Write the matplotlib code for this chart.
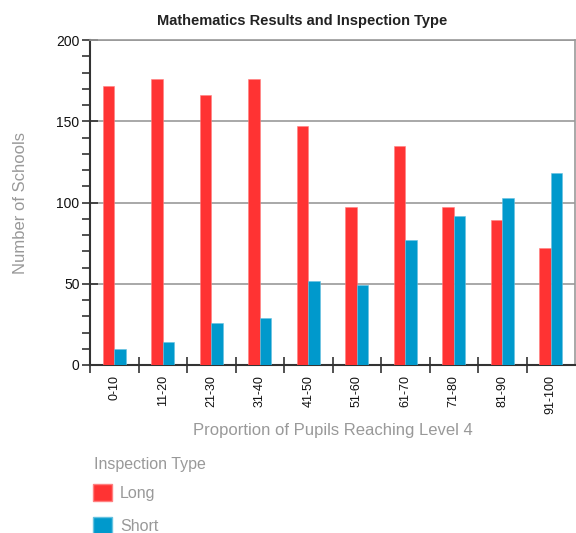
import matplotlib
matplotlib.use("Agg")
import matplotlib.pyplot as plt
import numpy as np
from matplotlib.patches import Patch

categories = ["0-10", "11-20", "21-30", "31-40", "41-50", "51-60", "61-70", "71-80", "81-90", "91-100"]
long_vals = [172, 176, 166, 176, 147, 97, 135, 97, 89, 72]
short_vals = [10, 14, 26, 29, 52, 49, 77, 92, 103, 118]
series_names = ["Long", "Short"]
legend_title = "Inspection Type"
colors = ["#FF3333", "#0099CC"]

plt.rcParams['font.family'] = ['Liberation Sans', 'DejaVu Sans']

fig = plt.figure(figsize=(5.76, 5.33), dpi=100)
ax = fig.add_axes([90/576, 1-365/533, (575-90)/576, (365-40)/533])

x = np.arange(len(categories))
w = 0.24
ax.bar(x - w/2, long_vals, width=w, color=colors[0], edgecolor="#ff8080", linewidth=0.4, zorder=3)
ax.bar(x + w/2, short_vals, width=w, color=colors[1], edgecolor="#66c2e0", linewidth=0.4, zorder=3)

ax.set_xlim(-0.5, len(categories) - 0.5)
ax.set_ylim(0, 200)

ax.set_yticks([0, 50, 100, 150, 200])
ax.set_yticks(np.arange(0, 201, 10), minor=True)
ax.yaxis.grid(True, which="major", color="#999999", linewidth=1.2, zorder=0)
ax.tick_params(axis="y", which="major", direction="inout", length=12, width=1.2, color="#333333",
               labelsize=10, pad=1.5, labelcolor="#111111")
ax.tick_params(axis="y", which="minor", direction="out", length=6, width=1.2, color="#333333")

ax.set_xticks(x)
ax.set_xticklabels(categories, rotation=90, fontsize=9, va="top", color="#111111")
ax.set_xticks(np.arange(-0.5, len(categories) - 0.5, 1), minor=True)
ax.tick_params(axis="x", which="major", length=0, pad=7)
ax.tick_params(axis="x", which="minor", direction="inout", length=11, width=1.2, color="#333333")

for s in ["left", "bottom"]:
    ax.spines[s].set_color("#333333")
    ax.spines[s].set_linewidth(1.5)
for s in ["top", "right"]:
    ax.spines[s].set_color("#999999")
    ax.spines[s].set_linewidth(1.2)

fig.text(302/576, 1-21/533, "Mathematics Results and Inspection Type", fontsize=10.5,
         fontweight="bold", color="#222222", ha="center", va="center")
ax.set_ylabel("Number of Schools", fontsize=12, color="#999999", labelpad=20)
ax.set_xlabel("Proportion of Pupils Reaching Level 4", fontsize=12, color="#999999", labelpad=7)

fig.text(94/576, 1-465/533, legend_title, fontsize=11.5, color="#999999", ha="left", va="center")
handles = [Patch(facecolor=colors[0], edgecolor="#ff8080"), Patch(facecolor=colors[1], edgecolor="#66c2e0")]
leg = fig.legend(handles, series_names, loc="upper left",
                 bbox_to_anchor=(93/576, 1-484/533), frameon=False, fontsize=11.5,
                 handlelength=1.2, handleheight=1.25, labelspacing=1.0,
                 handletextpad=0.5, borderpad=0, borderaxespad=0)
for t in leg.get_texts():
    t.set_color("#999999")

fig.savefig("out.png", dpi=100)
